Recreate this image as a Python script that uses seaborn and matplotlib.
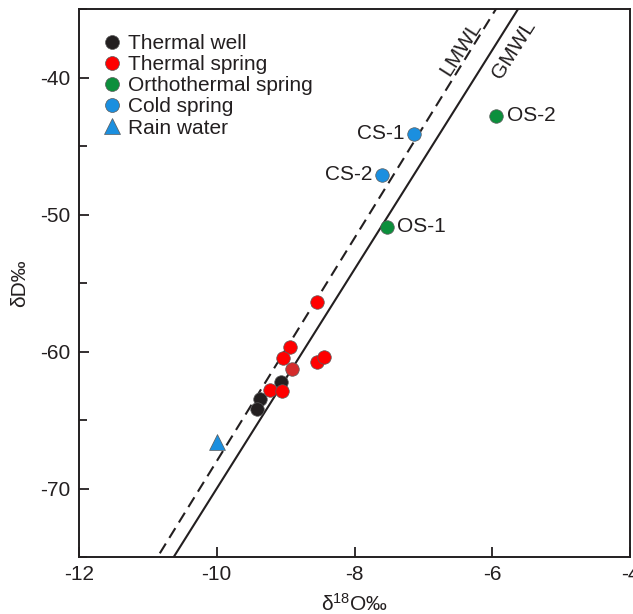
import numpy as np
import pandas as pd
import matplotlib
matplotlib.use("Agg")
import matplotlib.pyplot as plt
from matplotlib.lines import Line2D
from matplotlib.ticker import MultipleLocator
import seaborn as sns

sns.set_theme(style="white")
plt.rcParams["font.family"] = ["Liberation Sans", "DejaVu Sans"]
plt.rcParams["mathtext.fontset"] = "custom"
plt.rcParams["mathtext.rm"] = "Liberation Sans"
plt.rcParams["mathtext.it"] = "Liberation Sans"
plt.rcParams["axes.unicode_minus"] = False

# Isotope data (δ18O, δD, permil)
thermal_well_x = [-9.07, -9.37, -9.42]
thermal_well_y = [-62.2, -63.5, -64.2]
thermal_spring_x = [-8.54, -8.94, -9.04, -8.54, -8.44, -9.23, -9.05]
thermal_spring_y = [-56.4, -59.7, -60.5, -60.8, -60.4, -62.8, -62.9]
shaded_spring_x = [-8.91]
shaded_spring_y = [-61.3]
ortho_spring_x = [-7.53, -5.94]
ortho_spring_y = [-50.9, -42.8]
ortho_labels = ["OS-1", "OS-2"]
cold_spring_x = [-7.14, -7.60]
cold_spring_y = [-44.1, -47.1]
cold_labels = ["CS-1", "CS-2"]
rain_x = [-10.0]
rain_y = [-66.6]

groups = ["Thermal well", "Thermal spring", "Orthothermal spring", "Cold spring", "Rain water"]
colors = {"Thermal well": "#231f20", "Thermal spring": "#ff0000",
          "Orthothermal spring": "#0c8f3c", "Cold spring": "#1b8fdf",
          "Rain water": "#1b8fdf"}
markers = {"Thermal well": "o", "Thermal spring": "o", "Orthothermal spring": "o",
           "Cold spring": "o", "Rain water": "^"}

# Meteoric water lines: δD = slope * δ18O + intercept
gmwl_slope, gmwl_intercept = 8.0, 10.0
lmwl_slope, lmwl_intercept = 8.14, 13.4

df = pd.concat([
    pd.DataFrame({"x": thermal_well_x, "y": thermal_well_y, "group": "Thermal well"}),
    pd.DataFrame({"x": thermal_spring_x, "y": thermal_spring_y, "group": "Thermal spring"}),
    pd.DataFrame({"x": ortho_spring_x, "y": ortho_spring_y, "group": "Orthothermal spring"}),
    pd.DataFrame({"x": cold_spring_x, "y": cold_spring_y, "group": "Cold spring"}),
    pd.DataFrame({"x": rain_x, "y": rain_y, "group": "Rain water"}),
], ignore_index=True)

fig = plt.figure(figsize=(6.33, 6.14), dpi=100)
ax = fig.add_axes([79 / 633, 57 / 614, 551 / 633, 548 / 614])

xmin, xmax, ymin, ymax = -12, -4, -75, -35
xx = np.linspace(xmin, xmax, 200)
ink = "#231f20"
ax.plot(xx, gmwl_slope * xx + gmwl_intercept, color=ink, lw=1.5, zorder=1)
ax.plot(xx, lmwl_slope * xx + lmwl_intercept, color=ink, lw=1.5,
        dashes=(5.5, 3.2), zorder=1)

edge = "#5a5a5a"
for g in groups:
    sub = df[df["group"] == g]
    sns.scatterplot(data=sub, x="x", y="y", color=colors[g], marker=markers[g],
                    s=95 if markers[g] == "o" else 130, edgecolor=edge, linewidth=0.5,
                    ax=ax, zorder=3, legend=False)
sns.scatterplot(x=shaded_spring_x, y=shaded_spring_y, color="#d42c2c", s=95,
                edgecolor=edge, linewidth=0.5, ax=ax, zorder=3, legend=False)

# Point labels
for x, y, t in zip(cold_spring_x, cold_spring_y, cold_labels):
    ax.annotate(t, (x, y), xytext=(-7, 0), textcoords="offset points",
                ha="right", va="center", fontsize=15, color=ink)
for x, y, t in zip(ortho_spring_x, ortho_spring_y, ortho_labels):
    ax.annotate(t, (x, y), xytext=(7.5, 0), textcoords="offset points",
                ha="left", va="center", fontsize=15, color=ink)

# Line labels, rotated along the lines
ax.text(-6.46, -37.85, "LMWL", rotation=57.5, ha="center", va="center",
        fontsize=15, color=ink, rotation_mode="anchor")
ax.text(-5.68, -37.95, "GMWL", rotation=57.5, ha="center", va="center",
        fontsize=15, color=ink, rotation_mode="anchor")

ax.set_xlim(xmin, xmax)
ax.set_ylim(ymin, ymax)
ax.xaxis.set_major_locator(MultipleLocator(2))
ax.yaxis.set_major_locator(MultipleLocator(10))
ax.yaxis.set_minor_locator(MultipleLocator(5))
ax.tick_params(axis="both", which="major", direction="in", length=7, width=1.3,
               color=ink, labelsize=15, labelcolor=ink, pad=6,
               bottom=True, left=True, top=False, right=False)
ax.tick_params(axis="y", which="minor", direction="in", length=6, width=1.3,
               color=ink, left=True, right=False)
for sp in ax.spines.values():
    sp.set_color(ink)
    sp.set_linewidth(1.4)

ax.set_xlabel(r"δ$^{18}$O‰", fontsize=15, color=ink, labelpad=6)
ax.set_ylabel("δD‰", fontsize=15, color=ink, labelpad=8)

handles = [Line2D([0], [0], marker=markers[g], linestyle="none",
                  markerfacecolor=colors[g], markeredgecolor=edge,
                  markeredgewidth=0.5, markersize=11 if markers[g] == "^" else 10)
           for g in groups]
ax.legend(handles, groups, loc="upper left", bbox_to_anchor=(0.045, 0.954),
          frameon=False, fontsize=15, handlelength=0.8, handletextpad=0.35,
          labelspacing=0.1, borderpad=0, borderaxespad=0, labelcolor=ink)

fig.savefig("out.png", dpi=100)
